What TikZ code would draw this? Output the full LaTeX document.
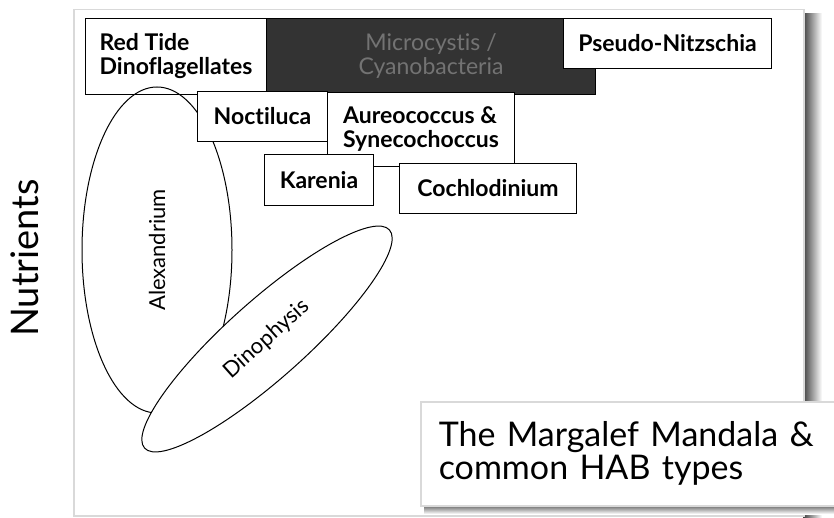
\documentclass[tikz,border=0pt]{standalone}
\usepackage{fontspec}
\setmainfont{Lato}[Ligatures=CommonOff]
\usetikzlibrary{positioning,shapes.geometric}

\tikzstyle{hab_box}=[draw, fill=white, line width=1pt, anchor=north west,
inner sep=0pt, align=left, font=\fontsize{23}{24}\selectfont\bfseries]
\tikzstyle{dark_box}=[hab_box, fill=black!80, text=black!55, align=center,
font=\fontsize{23}{24}\selectfont]
\tikzstyle{bloom}=[draw, ellipse, line width=1pt, inner sep=0pt,
font=\fontsize{22}{24}\selectfont]
\tikzstyle{panel}=[draw=black!15, line width=1.5pt, fill=white]
\definecolor{clrShadow}{rgb}{0.25,0.25,0.25}

\begin{document}
\begin{tikzpicture}[x=1pt, y=-1pt]
		\useasboundingbox (0,0) rectangle (834,518);

		% panel with its shadow
		\shade[left color=clrShadow, right color=white] (803,14) rectangle (822,518);
		\node[panel, anchor=north west, minimum width=730, minimum height=506] (P) at (73,9) {};

		\node[rotate=90, font=\fontsize{38}{40}\selectfont] (N) at (25,258) {Nutrients};

		% top row
		\node[hab_box, minimum width=181, minimum height=76] (R) at (85,18) {Red Tide\\Dinoflagellates};
		\node[dark_box, minimum width=329, minimum height=76] (M) at (266,18) {Microcystis /\\Cyanobacteria};
		\node[hab_box, minimum width=208, minimum height=50] (PN) at (563,18) {Pseudo-Nitzschia};

		\node[bloom, rotate=90, minimum width=326, minimum height=150] (A) at (157,250) {Alexandrium};

		% second row
		\node[hab_box, minimum width=130, minimum height=50] (NO) at (197,91) {Noctiluca};
		\node[hab_box, minimum width=187, minimum height=74] (AU) at (327,92) {Aureococcus \&\\Synecochoccus};
		\node[hab_box, minimum width=109, minimum height=51] (K) at (264,154) {Karenia};
		\node[hab_box, minimum width=177, minimum height=50] (C) at (399,163) {Cochlodinium};

		\node[bloom, fill=white, rotate=41.7, minimum width=328, minimum height=78] (D) at (267,339) {Dinophysis};

		% caption
		\shade[top color=clrShadow, bottom color=white] (424,503) rectangle (834,514);
		\node[panel, anchor=north west, inner xsep=18pt, inner ysep=0pt, text width=420,
			minimum height=104, align=left, font=\fontsize{34}{33}\selectfont] (T) at (420,401)
			{The Margalef Mandala \&\\common HAB types};
	\end{tikzpicture}
\end{document}
